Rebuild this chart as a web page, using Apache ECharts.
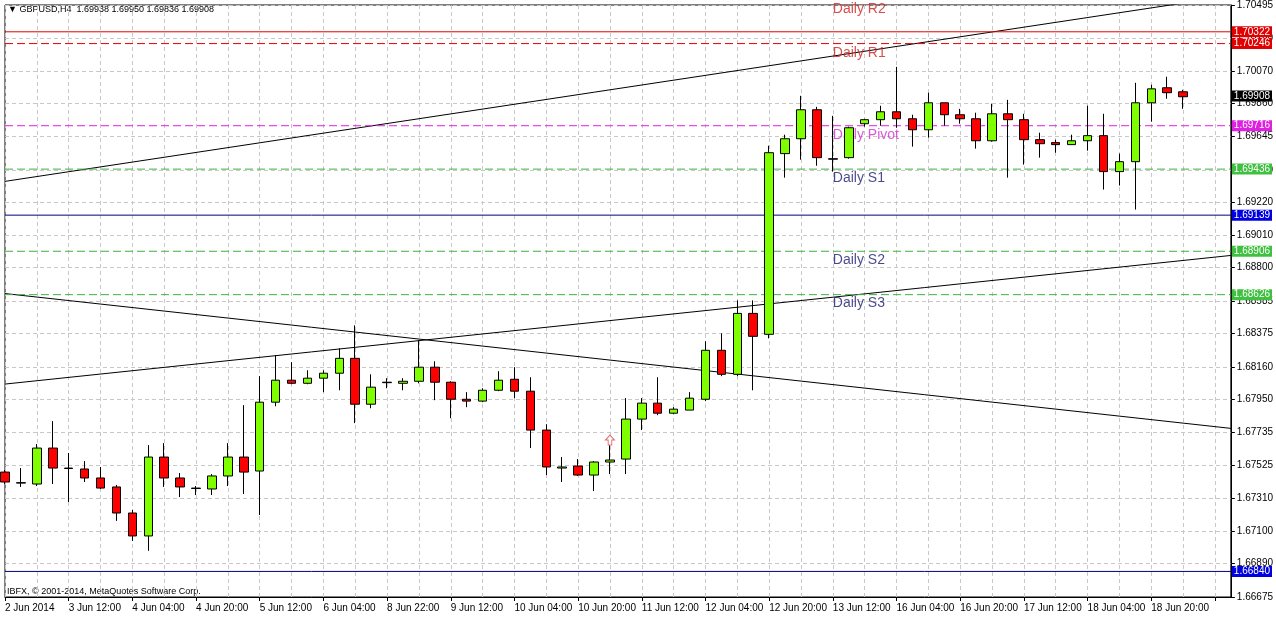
<!DOCTYPE html>
<html><head><meta charset="utf-8">
<script src="https://cdn.jsdelivr.net/npm/echarts@6/dist/echarts.min.js"></script>
<style>html,body{margin:0;padding:0;background:#fff}#c{width:1276px;height:619px}</style>
</head><body><div id="c"></div>
<script>
// candles: [open, close, low, high]
const candles = [
[1.67481,1.67417,1.67404,1.67494],[1.67410,1.67413,1.67385,1.67507],[1.67404,1.67636,1.67391,1.67662],[1.67636,1.67507,1.67404,1.67810],
[1.67507,1.67504,1.67288,1.67604],[1.67501,1.67443,1.67417,1.67552],[1.67443,1.67378,1.67372,1.67514],[1.67385,1.67217,1.67166,1.67398],
[1.67217,1.67069,1.67037,1.67237],[1.67069,1.67578,1.66973,1.67655],[1.67578,1.67443,1.67385,1.67668],[1.67443,1.67385,1.67320,1.67475],
[1.67378,1.67375,1.67333,1.67391],[1.67372,1.67456,1.67333,1.67468],[1.67456,1.67578,1.67391,1.67668],[1.67578,1.67481,1.67340,1.67913],
[1.67488,1.67932,1.67204,1.68100],[1.67932,1.68074,1.67906,1.68235],[1.68074,1.68054,1.68048,1.68190],[1.68054,1.68087,1.68048,1.68138],
[1.68087,1.68119,1.67997,1.68138],[1.68119,1.68215,1.68009,1.68280],[1.68215,1.67919,1.67797,1.68428],[1.67919,1.68029,1.67893,1.68112],
[1.68061,1.68058,1.68022,1.68087],[1.68054,1.68067,1.68009,1.68087],[1.68067,1.68158,1.68054,1.68331],[1.68158,1.68061,1.67945,1.68196],
[1.68061,1.67951,1.67829,1.68067],[1.67951,1.67939,1.67900,1.67997],[1.67939,1.68009,1.67932,1.68022],[1.68009,1.68074,1.68003,1.68132],
[1.68080,1.68003,1.67958,1.68158],[1.68003,1.67752,1.67636,1.68093],[1.67752,1.67514,1.67462,1.67790],[1.67507,1.67514,1.67417,1.67578],
[1.67520,1.67462,1.67456,1.67565],[1.67462,1.67546,1.67359,1.67552],[1.67546,1.67559,1.67468,1.67655],[1.67565,1.67823,1.67468,1.67958],
[1.67823,1.67926,1.67752,1.67958],[1.67926,1.67861,1.67848,1.68093],[1.67861,1.67887,1.67855,1.67900],[1.67881,1.67958,1.67881,1.67997],
[1.67951,1.68267,1.67939,1.68325],[1.68267,1.68112,1.68100,1.68376],[1.68112,1.68505,1.68100,1.68589],[1.68505,1.68357,1.68009,1.68589],
[1.68370,1.69542,1.68344,1.69587],[1.69536,1.69632,1.69381,1.69658],[1.69632,1.69819,1.69497,1.69909],[1.69819,1.69510,1.69458,1.69838],
[1.69503,1.69500,1.69420,1.69780],[1.69510,1.69703,1.69503,1.69710],[1.69729,1.69755,1.69710,1.69761],[1.69755,1.69806,1.69716,1.69845],
[1.69806,1.69761,1.69703,1.70096],[1.69761,1.69690,1.69581,1.69787],[1.69690,1.69864,1.69639,1.69929],[1.69864,1.69787,1.69716,1.69864],
[1.69787,1.69761,1.69729,1.69825],[1.69761,1.69619,1.69568,1.69800],[1.69619,1.69793,1.69613,1.69858],[1.69793,1.69755,1.69381,1.69883],
[1.69755,1.69626,1.69465,1.69793],[1.69626,1.69600,1.69510,1.69671],[1.69607,1.69594,1.69542,1.69626],[1.69594,1.69619,1.69594,1.69658],
[1.69619,1.69652,1.69555,1.69845],[1.69652,1.69420,1.69304,1.69793],[1.69420,1.69484,1.69330,1.69536],[1.69484,1.69864,1.69175,1.69993],
[1.69864,1.69954,1.69742,1.69980],[1.69961,1.69929,1.69890,1.70032],[1.69935,1.69903,1.69825,1.69948]
];
const timeLabels = ["2 Jun 2014","3 Jun 12:00","4 Jun 04:00","4 Jun 20:00","5 Jun 12:00","6 Jun 04:00","8 Jun 22:00","9 Jun 12:00","10 Jun 04:00","10 Jun 20:00","11 Jun 12:00","12 Jun 04:00","12 Jun 20:00","13 Jun 12:00","16 Jun 04:00","16 Jun 20:00","17 Jun 12:00","18 Jun 04:00","18 Jun 20:00"];
const priceTicks = [1.66675,1.66890,1.67100,1.67310,1.67525,1.67735,1.67950,1.68160,1.68375,1.68585,1.68800,1.69010,1.69220,1.69430,1.69645,1.69860,1.70070,1.70280,1.70495];
const levels = [
 {v:1.70322,color:'#e00000',type:'solid',bg:'#e00000'},
 {v:1.70246,color:'#e00000',type:[8,4],bg:'#e00000'},
 {v:1.69908,color:'rgba(0,0,0,0)',type:'solid',bg:'#000000'},
 {v:1.69716,color:'#e020e0',type:[8,4],bg:'#e020e0'},
 {v:1.69436,color:'#40b040',type:[8,4],bg:'#40c040'},
 {v:1.69139,color:'#000080',type:'solid',bg:'#0000e0'},
 {v:1.68906,color:'#40b040',type:[8,4],bg:'#40c040'},
 {v:1.68626,color:'#40b040',type:[8,4],bg:'#40c040'},
 {v:1.66840,color:'#000080',type:'solid',bg:'#0000e0'}
];
const pivotTexts = [
 {name:'Daily R2',x:52.3,y:1.70469,color:'#d02020'},
 {name:'Daily R1',x:52.3,y:1.70186,color:'#d02020'},
 {name:'Daily Pivot',x:51.8,y:1.69658,color:'#d030d0'},
 {name:'Daily S1',x:52.3,y:1.69375,color:'#1a1a6e'},
 {name:'Daily S2',x:52.3,y:1.68847,color:'#1a1a6e'},
 {name:'Daily S3',x:52.3,y:1.68570,color:'#1a1a6e'}
];
// trend lines: [startIndex, startPrice, endIndex, endPrice]
const trendLines = [[0,1.69357,77,1.70554],[0,1.68049,77,1.68879],[0,1.68633,77,1.67763]];
const NCAT = 78;
const cats = [];
for (let i=0;i<NCAT;i++) cats.push(i%4===0 && timeLabels[i/4] ? timeLabels[i/4] : '#'+i);

const chart = echarts.init(document.getElementById('c'));
const font = 'Liberation Sans, Arial, sans-serif';
const series = [];
trendLines.forEach(t=>series.push({type:'line',data:[[t[0],t[1]],[t[2],t[3]]],symbol:'none',lineStyle:{color:'#000',width:1},silent:true,animation:false,clip:true,z:1}));
levels.forEach(l=>series.push({type:'line',data:[[0,l.v],[NCAT-1,l.v]],symbol:'none',silent:true,animation:false,z:1,
  lineStyle:{color:l.color,type:l.type,width:1},
  endLabel:{show:true,formatter:l.v.toFixed(5),backgroundColor:l.bg,color:'#fff',fontSize:10,fontFamily:font,padding:[1,2,0,2],distance:1}}));
series.push({type:'scatter',symbolSize:0,silent:true,animation:false,z:1,
  data:pivotTexts.map(p=>({value:[p.x,p.y],label:{show:true,position:'right',distance:0,formatter:p.name,color:p.color,fontSize:14,fontFamily:font}}))});
series.push({
  type:'candlestick', data:candles, barWidth:9, z:3,
  itemStyle:{color:'#80ff00',color0:'#ff0000',borderColor:'#000',borderColor0:'#000',borderWidth:1},
  markPoint:{silent:true,animation:false,data:[{coord:[38,1.67688],symbol:'path://M5,0 L10,5 L7,5 L7,10 L3,10 L3,5 L0,5 Z',symbolSize:[9,10],
    itemStyle:{color:'#fff',borderColor:'#e07070',borderWidth:1},label:{show:false}}]}
});

chart.setOption({
  animation:false,
  grid:{left:5,right:42,top:4,bottom:22,show:true,borderColor:'#000',borderWidth:1},
  xAxis:{type:'category',data:cats,boundaryGap:false,
    axisLine:{lineStyle:{color:'#000'}},
    axisTick:{interval:3,length:4,lineStyle:{color:'#000'}},
    axisLabel:{interval:3,formatter:v=>v.startsWith('#')?'':v,align:'left',color:'#000',fontSize:10,fontFamily:font,margin:6},
    splitLine:{show:true,interval:1,lineStyle:{color:'#c8c8c8',type:[4,3]}}},
  yAxis:{type:'value',position:'right',min:1.66675,max:1.70495,scale:true,
    axisLine:{show:true,lineStyle:{color:'#000'}},
    axisTick:{show:true,length:4,customValues:priceTicks,lineStyle:{color:'#000'}},
    axisLabel:{customValues:priceTicks,formatter:v=>v.toFixed(5),color:'#000',fontSize:10,fontFamily:font,margin:6},
    splitLine:{show:true,lineStyle:{color:'#c8c8c8',type:[4,3]}}},
  graphic:[
    {type:'text',left:8,top:5,style:{text:'▼ GBPUSD,H4  1.69938 1.69950 1.69836 1.69908',fontSize:9,fontFamily:font,fill:'#000'}},
    {type:'text',left:7,top:587,style:{text:'IBFX, © 2001-2014, MetaQuotes Software Corp.',fontSize:9,fontFamily:font,fill:'#000'}}
  ],
  series
});
</script></body></html>
